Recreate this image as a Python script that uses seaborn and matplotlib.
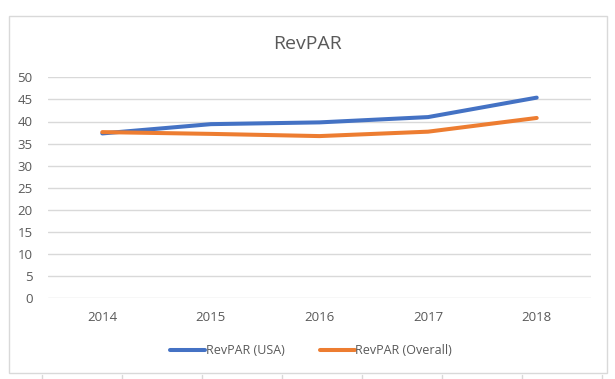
import matplotlib
matplotlib.use("Agg")
import matplotlib.pyplot as plt
import seaborn as sns
import pandas as pd
from matplotlib.patches import Rectangle
from matplotlib.lines import Line2D

years = ["2014", "2015", "2016", "2017", "2018"]
revpar_usa = [37.3, 39.4, 39.8, 41.0, 45.4]
revpar_overall = [37.6, 37.2, 36.7, 37.7, 40.8]
series_names = ["RevPAR (USA)", "RevPAR (Overall)"]
colors = ["#4472C4", "#ED7D31"]
yticks = [0, 5, 10, 15, 20, 25, 30, 35, 40, 45, 50]

df = pd.DataFrame({
    "Year": years * 2,
    "Value": revpar_usa + revpar_overall,
    "Series": [series_names[0]] * len(years) + [series_names[1]] * len(years),
})

sns.set_theme(style="white")
plt.rcParams["font.family"] = ["Open Sans", "DejaVu Sans"]

W, H = 615, 379
fig = plt.figure(figsize=(W / 100, H / 100), dpi=100)
ax = fig.add_axes([48 / W, 1 - 298.3 / H, (591 - 48) / W, (298.3 - 77.3) / H])

sns.lineplot(data=df, x="Year", y="Value", hue="Series", palette=colors,
             linewidth=2.9, ax=ax, legend=False, sort=False)
for ln in ax.lines:
    ln.set_solid_capstyle("round")

ax.set_xlim(-0.5, len(years) - 0.5)
ax.set_ylim(0, 50)
ax.set_yticks(yticks)
ax.set_yticklabels([str(t) for t in yticks])
ax.grid(axis="y", color="#D9D9D9", linewidth=1)
ax.set_axisbelow(True)
for s in ax.spines.values():
    s.set_visible(False)
ax.tick_params(axis="both", length=0, labelsize=9.5, colors="#595959")
ax.tick_params(axis="y", pad=11)
ax.tick_params(axis="x", pad=9)
ax.set_xlabel("")
ax.set_ylabel("")

fig.text(307.5 / W, 1 - 44 / H, "RevPAR", ha="center", va="center",
         fontsize=14, color="#595959")

handles = [Line2D([0], [0], color=c, linewidth=2.9, solid_capstyle="round") for c in colors]
fig.legend(handles, series_names, loc="center", bbox_to_anchor=(311 / W, 1 - 351 / H),
           ncol=2, frameon=False, fontsize=9, handlelength=2.8, handletextpad=0.05,
           columnspacing=2.8, labelcolor="#595959")

fig.patches.append(Rectangle((9 / W, 1 - 373 / H), (607 - 9) / W, (373 - 16) / H,
                             transform=fig.transFigure, fill=False,
                             edgecolor="#D9D9D9", linewidth=1))
for x in [42, 122, 202, 282, 362, 442, 522, 602]:
    fig.lines.append(Line2D([x / W, x / W], [0, 4 / H], transform=fig.transFigure,
                            color="#D9D9D9", linewidth=1))

fig.savefig("out.png", dpi=100, facecolor="white")
